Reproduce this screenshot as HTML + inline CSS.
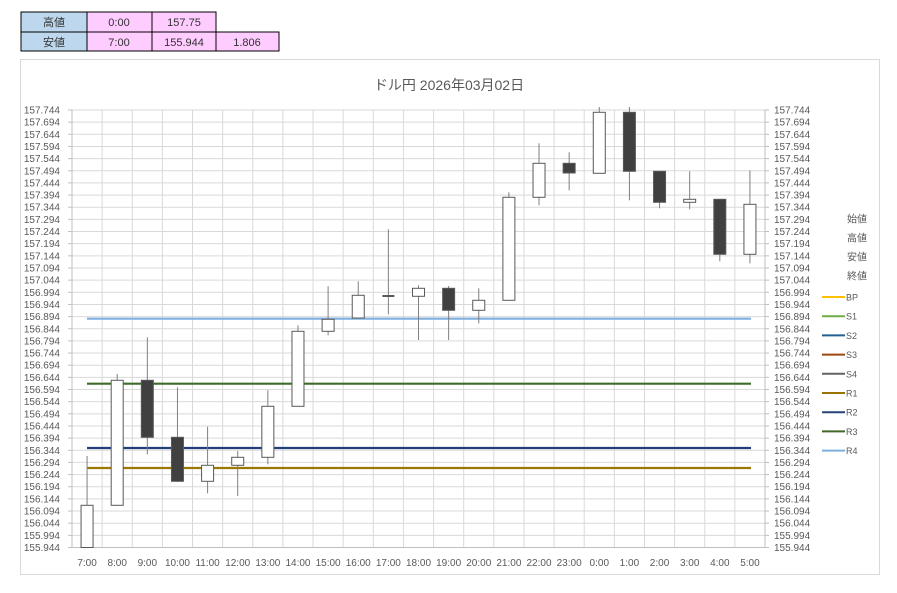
<!DOCTYPE html>
<html><head><meta charset="utf-8"><style>
body{margin:0;background:#fff;width:897px;height:593px;overflow:hidden;font-family:"Liberation Sans","Noto Sans CJK JP",sans-serif}
svg{position:absolute;left:0;top:0}
</style></head><body>
<svg id="s" width="897" height="593" xmlns="http://www.w3.org/2000/svg" font-family="Liberation Sans, Noto Sans CJK JP, sans-serif">
<rect x="20.5" y="59.5" width="859" height="515" fill="#fff" stroke="#d9d9d9"/>
<g font-size="11" text-anchor="middle" fill="#333">
<rect x="21" y="12" width="66" height="20" fill="#bdd7ee" stroke="#000"/>
<rect x="87" y="12" width="65" height="20" fill="#ffccff" stroke="#000"/>
<rect x="152" y="12" width="64" height="20" fill="#ffccff" stroke="#000"/>
<rect x="21" y="32" width="66" height="19" fill="#bdd7ee" stroke="#000"/>
<rect x="87" y="32" width="65" height="19" fill="#ffccff" stroke="#000"/>
<rect x="152" y="32" width="64" height="19" fill="#ffccff" stroke="#000"/>
<rect x="216" y="32" width="63" height="19" fill="#ffccff" stroke="#000"/>
<text x="54" y="26">高値</text><text x="119" y="26">0:00</text><text x="184" y="26">157.75</text>
<text x="54" y="46">安値</text><text x="119" y="46">7:00</text><text x="184" y="46">155.944</text><text x="247" y="46">1.806</text>
</g>
<text x="449" y="90" font-size="14" text-anchor="middle" fill="#595959">ドル円  2026年03月02日</text>
<g id="g"></g>
</svg>
<script>
var g=document.getElementById('g'),h='';
var L=72,R=765,T=110,B=547.5,cw=(R-L)/23;
for(var i=0;i<=36;i++){var y=T+(B-T)*i/36;var v=(157.744-0.05*i).toFixed(3);
h+='<line x1="'+L+'" x2="'+R+'" y1="'+y+'" y2="'+y+'" stroke="#d9d9d9"/>';
h+='<line x1="'+(L-4)+'" x2="'+L+'" y1="'+y+'" y2="'+y+'" stroke="#bfbfbf"/><line x1="'+R+'" x2="'+(R+4)+'" y1="'+y+'" y2="'+y+'" stroke="#bfbfbf"/>';
h+='<text x="60" y="'+(y+3.5)+'" font-size="10" text-anchor="end" fill="#595959">'+v+'</text>';
h+='<text x="774" y="'+(y+3.5)+'" font-size="10" fill="#595959">'+v+'</text>';}
var labs=['7:00','8:00','9:00','10:00','11:00','12:00','13:00','14:00','15:00','16:00','17:00','18:00','19:00','20:00','21:00','22:00','23:00','0:00','1:00','2:00','3:00','4:00','5:00'];
for(var i=0;i<=23;i++){var x=L+cw*i;h+='<line x1="'+x+'" x2="'+x+'" y1="'+T+'" y2="'+B+'" stroke="#d9d9d9"/>';}
h+='<line x1="'+L+'" x2="'+L+'" y1="'+T+'" y2="'+B+'" stroke="#bfbfbf"/><line x1="'+R+'" x2="'+R+'" y1="'+T+'" y2="'+B+'" stroke="#bfbfbf"/><line x1="'+L+'" x2="'+R+'" y1="'+B+'" y2="'+B+'" stroke="#bfbfbf"/>';
for(var i=0;i<23;i++){h+='<text x="'+(L+cw*(i+0.5))+'" y="566" font-size="10" text-anchor="middle" fill="#595959">'+labs[i]+'</text>';}
var hl=[[318.7,'#7eaee0'],[383.7,'#3e6b2a'],[448,'#213f78'],[468,'#9c7800']];
hl.forEach(function(a){h+='<line x1="87" x2="751" y1="'+a[0]+'" y2="'+a[0]+'" stroke="'+a[1]+'" stroke-width="2.2"/>';});
// [top,bottom,high,low,dark]
var c=[[505.3,547.5,456,547,0],[380.3,505.3,374,506,0],[380.3,437.3,337.3,454.3,1],[437.3,481.3,387.3,482,1],[465.3,481.3,426.7,493.3,0],[457.3,465.3,451,496,0],[406.3,457.3,390.3,464.3,0],[331.3,406.3,325.3,406,0],[319.3,331.3,286.3,335.3,0],[295.3,318,281.3,318,0],[295.5,296.5,229.3,314.3,2],[288.3,296.3,285.3,340,0],[288.3,310.3,286,340,1],[300.3,310.3,288.3,323.3,0],[197.3,300.3,192.3,300,0],[163.3,197.3,143.3,205.3,0],[163.3,173,152.3,190.3,1],[112.3,173.3,107,173,0],[112.3,171.3,107,200.3,1],[171.3,202.3,171,208.3,1],[199.3,202.3,171.3,209.3,0],[199.3,254.3,199,261.3,1],[204.3,254.3,170.3,263.3,0]];
c.forEach(function(d,i){var x=L+cw*(i+0.5);
h+='<line x1="'+x+'" x2="'+x+'" y1="'+d[2]+'" y2="'+d[3]+'" stroke="#7f7f7f"/>';
if(d[4]==2){h+='<line x1="'+(x-6)+'" x2="'+(x+6)+'" y1="296" y2="296" stroke="#595959" stroke-width="2"/>';}
else h+='<rect x="'+(x-6)+'" y="'+d[0]+'" width="12" height="'+(d[1]-d[0])+'" fill="'+(d[4]?'#404040':'#fff')+'" stroke="#595959" stroke-width="1"/>';});
var lg=[['始値',''],['高値',''],['安値',''],['終値',''],['BP','#ffc000'],['S1','#70ad47'],['S2','#255e91'],['S3','#9e480e'],['S4','#636363'],['R1','#997300'],['R2','#264478'],['R3','#43682b'],['R4','#7cafdd']];
lg.forEach(function(a,i){var y=i<4?219+19*i:297+19.2*(i-4);
if(a[1])h+='<line x1="822" x2="845" y1="'+y+'" y2="'+y+'" stroke="'+a[1]+'" stroke-width="2"/>';
h+='<text x="'+(a[1]?846:847)+'" y="'+(y+3.5)+'" font-size="'+(a[1]?9:10)+'" fill="#595959">'+a[0]+'</text>';});
g.innerHTML=h;
</script>
</body></html>
